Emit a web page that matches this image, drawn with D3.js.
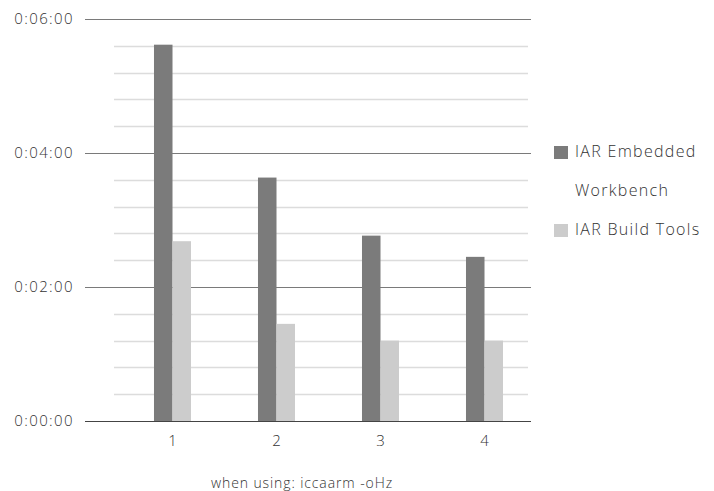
<!DOCTYPE html>
<html>
<head>
<meta charset="utf-8">
<script src="https://cdn.jsdelivr.net/npm/d3@7"></script>
<style>
html,body{margin:0;padding:0;background:#fff;}
svg{display:block;}
text{font-family:"Open Sans",Lato,sans-serif;font-weight:300;fill:#333;}
</style>
</head>
<body>
<svg id="chart" width="714" height="491"></svg>
<script>
const categories = ["1", "2", "3", "4"];
const seriesNames = ["IAR Embedded Workbench", "IAR Build Tools"];
// times in seconds
const embeddedWorkbench = [337, 218, 166, 147];
const buildTools = [161, 87, 72, 72];
const majorTicks = [0, 120, 240, 360];
const minorTicks = [24, 48, 72, 96, 144, 168, 192, 216, 264, 288, 312, 336];
const xTitle = "when using: iccaarm -oHz";
const colors = ["#7b7b7b", "#cccccc"];

const svg = d3.select("#chart");
const y = d3.scaleLinear().domain([0, 360]).range([421, 19]);
const x0 = d3.scaleBand().domain(categories).range([120.5, 536.5]).paddingInner(0.644).paddingOuter(0.322);
const x1 = d3.scaleBand().domain(seriesNames).range([0, x0.bandwidth()]);

const fmt = s => {
  const h = Math.floor(s / 3600), m = Math.floor((s % 3600) / 60), sec = s % 60;
  return h + ":" + String(m).padStart(2, "0") + ":" + String(sec).padStart(2, "0");
};

svg.append("g").selectAll("line").data(minorTicks).join("line")
  .attr("x1", 114).attr("x2", 528)
  .attr("y1", d => Math.round(y(d)) + 0.5).attr("y2", d => Math.round(y(d)) + 0.5)
  .attr("stroke", "#dcdcdc").attr("stroke-width", 1.5);

svg.append("g").selectAll("line").data(majorTicks.filter(d => d > 0)).join("line")
  .attr("x1", 85).attr("x2", 531)
  .attr("y1", d => Math.round(y(d)) + 0.5).attr("y2", d => Math.round(y(d)) + 0.5)
  .attr("stroke", "#7a7a7a").attr("stroke-width", 1);

const yAxis = d3.axisLeft(y).tickValues(majorTicks).tickFormat(fmt).tickSize(0).tickPadding(0);
const gy = svg.append("g").attr("transform", "translate(74,0)").call(yAxis);
gy.select(".domain").remove();
gy.selectAll("text").style("font-size", "15px").style("letter-spacing", "1.4px").attr("fill", "#333")
  .style("font-family", "'Open Sans',sans-serif").style("font-weight", "300");

const data = categories.map((c, i) => ({ cat: c, vals: [embeddedWorkbench[i], buildTools[i]] }));
const groups = svg.append("g").selectAll("g").data(data).join("g")
  .attr("transform", d => `translate(${x0(d.cat)},0)`);
groups.selectAll("rect").data(d => d.vals.map((v, j) => ({ name: seriesNames[j], v, j }))).join("rect")
  .attr("x", d => x1(d.name)).attr("width", x1.bandwidth())
  .attr("y", d => y(d.v)).attr("height", d => y(0) - y(d.v))
  .attr("fill", d => colors[d.j]);

svg.append("line").attr("x1", 85).attr("x2", 531)
  .attr("y1", Math.round(y(0)) + 0.5).attr("y2", Math.round(y(0)) + 0.5)
  .attr("stroke", "#444").attr("stroke-width", 1.2);

const xAxis = d3.axisBottom(x0).tickSize(0).tickPadding(0);
const gx = svg.append("g").attr("transform", `translate(0,${y(0) + 14})`).call(xAxis);
gx.select(".domain").remove();
gx.selectAll("text").style("font-size", "15px").attr("fill", "#333")
  .style("font-family", "'Open Sans',sans-serif").style("font-weight", "300");

svg.append("text").attr("x", 302).attr("y", 488).attr("text-anchor", "middle")
  .style("font-size", "14px").style("letter-spacing", "0.9px").text(xTitle);

const legend = svg.append("g");
const legendItems = [
  { lines: ["IAR Embedded", "Workbench"], y: 146, color: colors[0] },
  { lines: ["IAR Build Tools"], y: 224, color: colors[1] }
];
legendItems.forEach(item => {
  legend.append("rect").attr("x", 554).attr("y", item.y).attr("width", 14).attr("height", 13).attr("fill", item.color);
  item.lines.forEach((t, k) => {
    legend.append("text").attr("x", 575).attr("y", item.y + 11 + k * 39)
      .style("font-size", "16px").style("letter-spacing", "1.3px").text(t);
  });
});
</script>
</body>
</html>
